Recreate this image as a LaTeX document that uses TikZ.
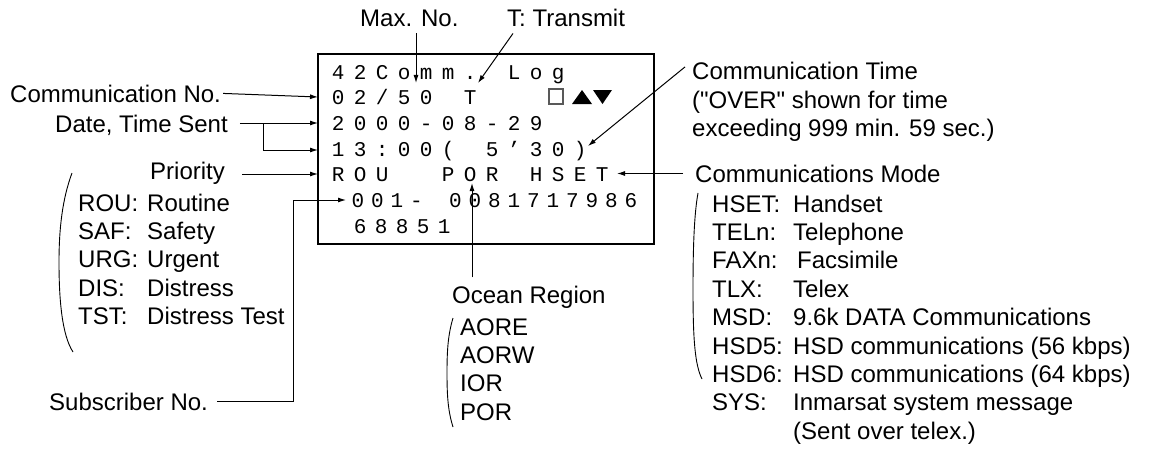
\documentclass[tikz,border=0pt]{standalone}
\usepackage{fontspec}
\setmainfont{Liberation Sans}[Ligatures=TeXOff]
\newfontfamily\lcdfont{Liberation Mono}
\usetikzlibrary{arrows.meta}

% one character per fixed cell, like the display grid
\newlength\lcdpitch
\newcommand\lcdchars[2][22pt]{\setlength\lcdpitch{#1}\lcdloop#2\relax}
\def\lcdloop#1{\ifx#1\relax\else\makebox[\lcdpitch]{#1}\expandafter\lcdloop\fi}

\tikzset{
  lcdrow/.style={anchor=base west,inner sep=0pt,font=\lcdfont\fontsize{21}{21}\selectfont},
  note/.style={anchor=base west,inner sep=0pt,font=\fontsize{24}{28.4}\selectfont},
  arr/.style={line width=1pt,-{Latex[length=8pt,width=5pt]}},
  brace/.style={line width=0.9pt}
}

\begin{document}
\begin{tikzpicture}[x=1pt,y=-1pt]
  \useasboundingbox (0,0) rectangle (1151,452);

  % Display frame and its seven rows.
  \draw[line width=1.3pt] (318,54) rectangle (654,244);
  \node[lcdrow] (row1) at (327,79) {\lcdchars{42Comm.~Log}};
  \node[lcdrow] (row2) at (327,104) {\lcdchars{02/50~T}};
  \node[lcdrow] (row3) at (327,130) {\lcdchars{2000-08-29}};
  \node[lcdrow] (row4) at (327,156) {\lcdchars{13:00(~5’30)}};
  \node[lcdrow] (row5) at (327,181) {\lcdchars{ROU~~POR~HSET}};
  \node[lcdrow] (row6) at (348,207) {\lcdchars[19.5pt]{001-~0081717986}};
  \node[lcdrow] (row7) at (349.5,233) {\lcdchars[21pt]{68851}};
  \draw[gray!70!black,line width=1.2pt] (549,89) rectangle (563,104);
  \fill (572,104) -- (582,90) -- (592,104) -- cycle;
  \fill (593,90) -- (612,90) -- (602.5,104) -- cycle;

  % Arrow tips on the display.
  \coordinate (maxtip) at (416,83);
  \coordinate (xtip) at (478,83);
  \coordinate (ctip) at (588,146);
  \coordinate (modetip) at (617,173.5);
  \coordinate (otip) at (472,183);
  \coordinate (cntip) at (318,97);
  \coordinate (datetip) at (318,123);
  \coordinate (timetip) at (318,150);
  \coordinate (datefork) at (263,123);
  \coordinate (priotip) at (318,174);
  \coordinate (subbend) at (293,200);
  \coordinate (subtip) at (346,200);

  \node[note] (maxno) at (360,27) {Max. No.};
  \node[note] (xmit) at (507,27) {T: Transmit};
  \node[note] (commno) at (10,102) {Communication No.};
  \node[note] (datesent) at (55,132) {Date, Time Sent};
  \node[note] (prio) at (150,179) {Priority};
  \node[note] (prilist) at (78,211) {\begin{tabular}[t]{@{}p{69pt}@{}l@{}}
    ROU: & Routine\\ SAF: & Safety\\ URG: & Urgent\\ DIS: & Distress\\ TST: & Distress Test
  \end{tabular}};
  \node[note] (subno) at (49,410) {Subscriber No.};
  \node[note] (ocean) at (452,303) {Ocean Region};
  \node[note] (oceanlist) at (460,335) {\begin{tabular}[t]{@{}l@{}}
    AORE\\ AORW\\ IOR\\ POR
  \end{tabular}};
  \node[note] (commtime) at (692,80) {\begin{tabular}[t]{@{}l@{}}
    Communication Time\\ ("OVER" shown for time\\ exceeding 999 min. 59 sec.)
  \end{tabular}};
  \node[note] (commmode) at (695,182) {Communications Mode};
  \node[note] (modelist) at (712,212) {\begin{tabular}[t]{@{}p{81pt}@{}l@{}}
    HSET: & Handset\\ TELn: & Telephone\\ FAXn: & \hspace{4pt}Facsimile\\
    TLX: & Telex\\ MSD: & 9.6k DATA Communications\\
    HSD5: & HSD communications (56 kbps)\\ HSD6: & HSD communications (64 kbps)\\
    SYS: & Inmarsat system message\\ & (Sent over telex.)
  \end{tabular}};

  % Leaders.
  \draw[arr] (maxno.south -| maxtip) ++(0,6) -- (maxtip);
  \draw[arr] (xmit.south west) ++(6,6) -- (xtip);
  \draw[arr] (commtime.north west) ++(-7,7) -- (ctip);
  \draw[arr] (commmode.west |- modetip) ++(-12,0) -- (modetip);
  \draw[arr] (ocean.north -| otip) ++(0,-8) -- (otip);
  \draw[arr] (commno.east) ++(2,0) -- (cntip);
  \draw[arr] (datesent.east |- datetip) ++(12,0) -- (datetip);
  \draw[arr] (datefork) |- (timetip);
  \draw[arr] (prio.east |- priotip) ++(17,0) -- (priotip);
  \draw[arr] (subno.east) ++(9,0) -| (subbend) -- (subtip);

  % Brackets round the code lists.
  \draw[brace] (72,173) .. controls (62,200) and (59,230) .. (59,262)
    .. controls (59,300) and (62,335) .. (73,352);
  \draw[brace] (453,318) .. controls (448,335) and (447,350) .. (447,373)
    .. controls (447,396) and (448,411) .. (453,427);
  \draw[brace] (698,193) .. controls (694,215) and (693,250) .. (693,290)
    .. controls (693,340) and (695,365) .. (702,379);
\end{tikzpicture}
\end{document}
